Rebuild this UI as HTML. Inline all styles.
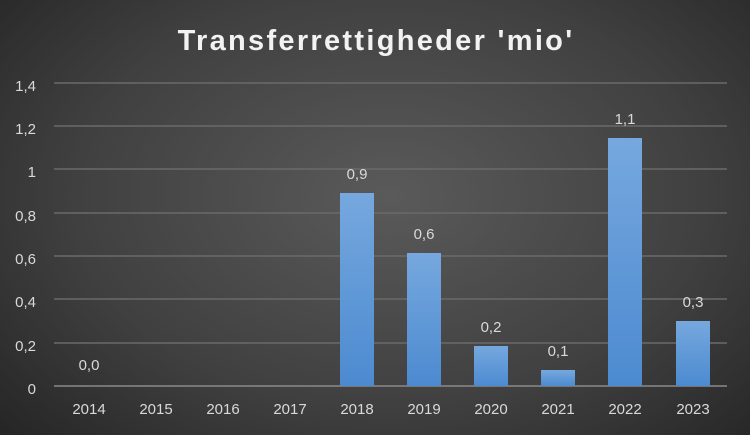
<!DOCTYPE html>
<html><head><meta charset="utf-8"><style>
html,body{margin:0;padding:0;}
body{width:750px;height:435px;overflow:hidden;background:radial-gradient(ellipse 70% 80% at 52% 45%,#5a5a5a 0%,#404040 60%,#262626 100%);font-family:"Liberation Sans",sans-serif;}
</style></head><body>
<svg width="750" height="435" xmlns="http://www.w3.org/2000/svg" style="position:absolute;left:0;top:0">
<defs><linearGradient id="b" x1="0" y1="0" x2="0" y2="1"><stop offset="0" stop-color="#76a8de"/><stop offset="1" stop-color="#4c8ad0"/></linearGradient></defs>
<text x="376" y="50" text-anchor="middle" fill="#f2f2f2" font-size="29" font-weight="bold" letter-spacing="2.3">Transferrettigheder 'mio'</text>
<g stroke="#6a6a6a" stroke-width="1.5">
<line x1="54" x2="727" y1="83" y2="83"/><line x1="54" x2="727" y1="126" y2="126"/><line x1="54" x2="727" y1="169" y2="169"/><line x1="54" x2="727" y1="213" y2="213"/><line x1="54" x2="727" y1="256" y2="256"/><line x1="54" x2="727" y1="299" y2="299"/><line x1="54" x2="727" y1="343" y2="343"/>
</g>
<line x1="54" x2="727" y1="386" y2="386" stroke="#8a8a8a" stroke-width="1.5"/>
<g fill="#d9d9d9" font-size="15" text-anchor="end">
<text x="36" y="91">1,4</text><text x="36" y="134">1,2</text><text x="36" y="177">1</text><text x="36" y="221">0,8</text><text x="36" y="264">0,6</text><text x="36" y="307">0,4</text><text x="36" y="351">0,2</text><text x="36" y="394">0</text>
</g>
<g fill="url(#b)">
<rect x="340" y="193" width="34" height="193"/>
<rect x="407" y="253" width="34" height="133"/>
<rect x="474" y="346" width="34" height="40"/>
<rect x="541" y="370" width="34" height="16"/>
<rect x="608" y="138" width="34" height="248"/>
<rect x="676" y="321" width="34" height="65"/>
</g>
<g fill="#d9d9d9" font-size="15" text-anchor="middle">
<text x="89" y="370">0,0</text><text x="357" y="179">0,9</text><text x="424" y="239">0,6</text><text x="491" y="332">0,2</text><text x="558" y="356">0,1</text><text x="625" y="124">1,1</text><text x="693" y="307">0,3</text>
</g>
<g fill="#d9d9d9" font-size="15" text-anchor="middle">
<text x="89" y="414">2014</text><text x="156" y="414">2015</text><text x="223" y="414">2016</text><text x="290" y="414">2017</text><text x="357" y="414">2018</text><text x="424" y="414">2019</text><text x="491" y="414">2020</text><text x="558" y="414">2021</text><text x="625" y="414">2022</text><text x="693" y="414">2023</text>
</g>
</svg>
</body></html>
